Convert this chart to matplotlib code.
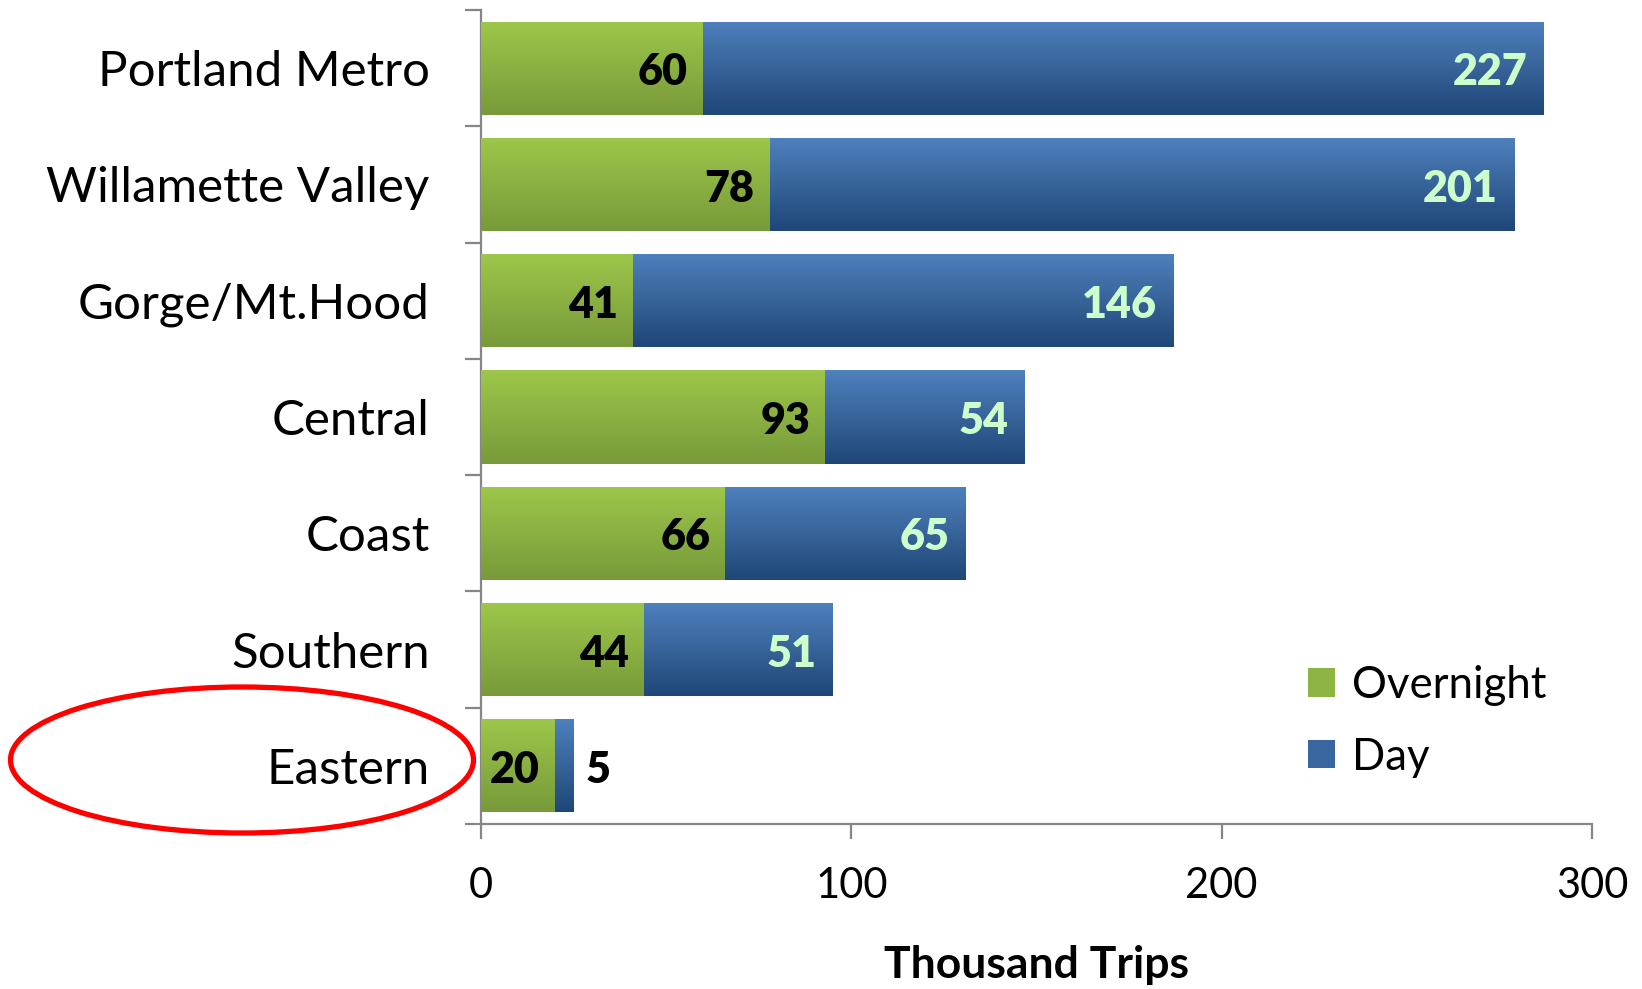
import numpy as np
import matplotlib
matplotlib.use("Agg")
import matplotlib.pyplot as plt
from matplotlib.patches import Ellipse, Patch
from matplotlib.colors import LinearSegmentedColormap

categories = ["Portland Metro", "Willamette Valley", "Gorge/Mt.Hood", "Central",
              "Coast", "Southern", "Eastern"]
overnight = [60, 78, 41, 93, 66, 44, 20]
day = [227, 201, 146, 54, 65, 51, 5]
series_names = ["Overnight", "Day"]
xticks = [0, 100, 200, 300]
xlabel = "Thousand Trips"

green_top, green_bot = "#9DC74A", "#789A3A"
blue_top, blue_bot = "#4F81BD", "#1F4677"
day_label_color = "#CCFFCC"
axis_gray = "#868686"

plt.rcParams['font.family'] = ['Lato', 'DejaVu Sans']

W, H = 1642, 989
fig = plt.figure(figsize=(W / 100, H / 100), dpi=100)
ax = fig.add_axes([481 / W, 1 - 824 / H, (1592 - 481) / W, (824 - 10) / H])

y = np.arange(len(categories))
bh = 0.8
b1 = ax.barh(y, overnight, height=bh, color=green_top, edgecolor="none", zorder=2)
b2 = ax.barh(y, day, left=overnight, height=bh, color=blue_top, edgecolor="none", zorder=2)


def grad_fill(bars, top, bot):
    cmap = LinearSegmentedColormap.from_list("g", [top, bot])
    grad = np.linspace(0, 1, 256).reshape(-1, 1)
    for r in bars:
        x0, yb = r.get_x(), r.get_y()
        w, h = r.get_width(), r.get_height()
        im = ax.imshow(grad, cmap=cmap, aspect="auto", origin="upper",
                       extent=[x0, x0 + w, yb + h, yb], zorder=3,
                       interpolation="bilinear")
        im.set_clip_path(r)


grad_fill(b1, green_top, green_bot)
grad_fill(b2, blue_top, blue_bot)

ax.set_xlim(0, 300)
ax.set_ylim(len(categories) - 0.5, -0.5)

lab_fs = 31
for i in range(len(categories)):
    ax.annotate(str(overnight[i]), xy=(overnight[i], y[i]), xytext=(-11, -3),
                textcoords="offset points", ha="right", va="center",
                fontsize=lab_fs, fontweight="heavy", color="black", zorder=5)
    end = overnight[i] + day[i]
    if day[i] >= 20:
        ax.annotate(str(day[i]), xy=(end, y[i]), xytext=(-12, -3),
                    textcoords="offset points", ha="right", va="center",
                    fontsize=lab_fs, fontweight="heavy", color=day_label_color, zorder=5)
    else:
        ax.annotate(str(day[i]), xy=(end, y[i]), xytext=(9, -3),
                    textcoords="offset points", ha="left", va="center",
                    fontsize=lab_fs, fontweight="heavy", color="black", zorder=5)

# axes styling
for s in ["top", "right"]:
    ax.spines[s].set_visible(False)
for s in ["left", "bottom"]:
    ax.spines[s].set_color(axis_gray)
    ax.spines[s].set_linewidth(1.6)

ax.set_yticks(y)
ax.set_yticklabels(categories, fontsize=35.5)
ax.set_yticks(np.arange(-0.5, len(categories)), minor=True)
ax.tick_params(axis="y", which="major", length=0, pad=37)
ax.tick_params(axis="y", which="minor", length=11.5, width=1.6, color=axis_gray, direction="out")

ax.set_xticks(xticks)
ax.set_xticklabels([str(t) for t in xticks], fontsize=30)
ax.tick_params(axis="x", which="major", length=11, width=1.6, color=axis_gray,
               direction="out", pad=20)
ax.set_xlabel(xlabel, fontsize=32, fontweight="bold", labelpad=29)

# legend
handles = [Patch(facecolor="#8DB443", edgecolor="none"),
           Patch(facecolor="#3A66A0", edgecolor="none")]
leg = ax.legend(handles, series_names, loc="lower left",
                bbox_to_anchor=(1290 / W, 1 - 795 / H), bbox_transform=fig.transFigure,
                frameon=False, fontsize=31.5, handlelength=0.62, handleheight=0.62,
                handletextpad=0.4, labelspacing=0.7, borderaxespad=0)

# red ellipse highlight
ell = Ellipse((242 / W, 1 - 760 / H), 463 / W, 146 / H, transform=fig.transFigure,
              fill=False, edgecolor="#FF0000", linewidth=3.8, zorder=10)
fig.patches.append(ell)

fig.savefig("out.png", dpi=100)
